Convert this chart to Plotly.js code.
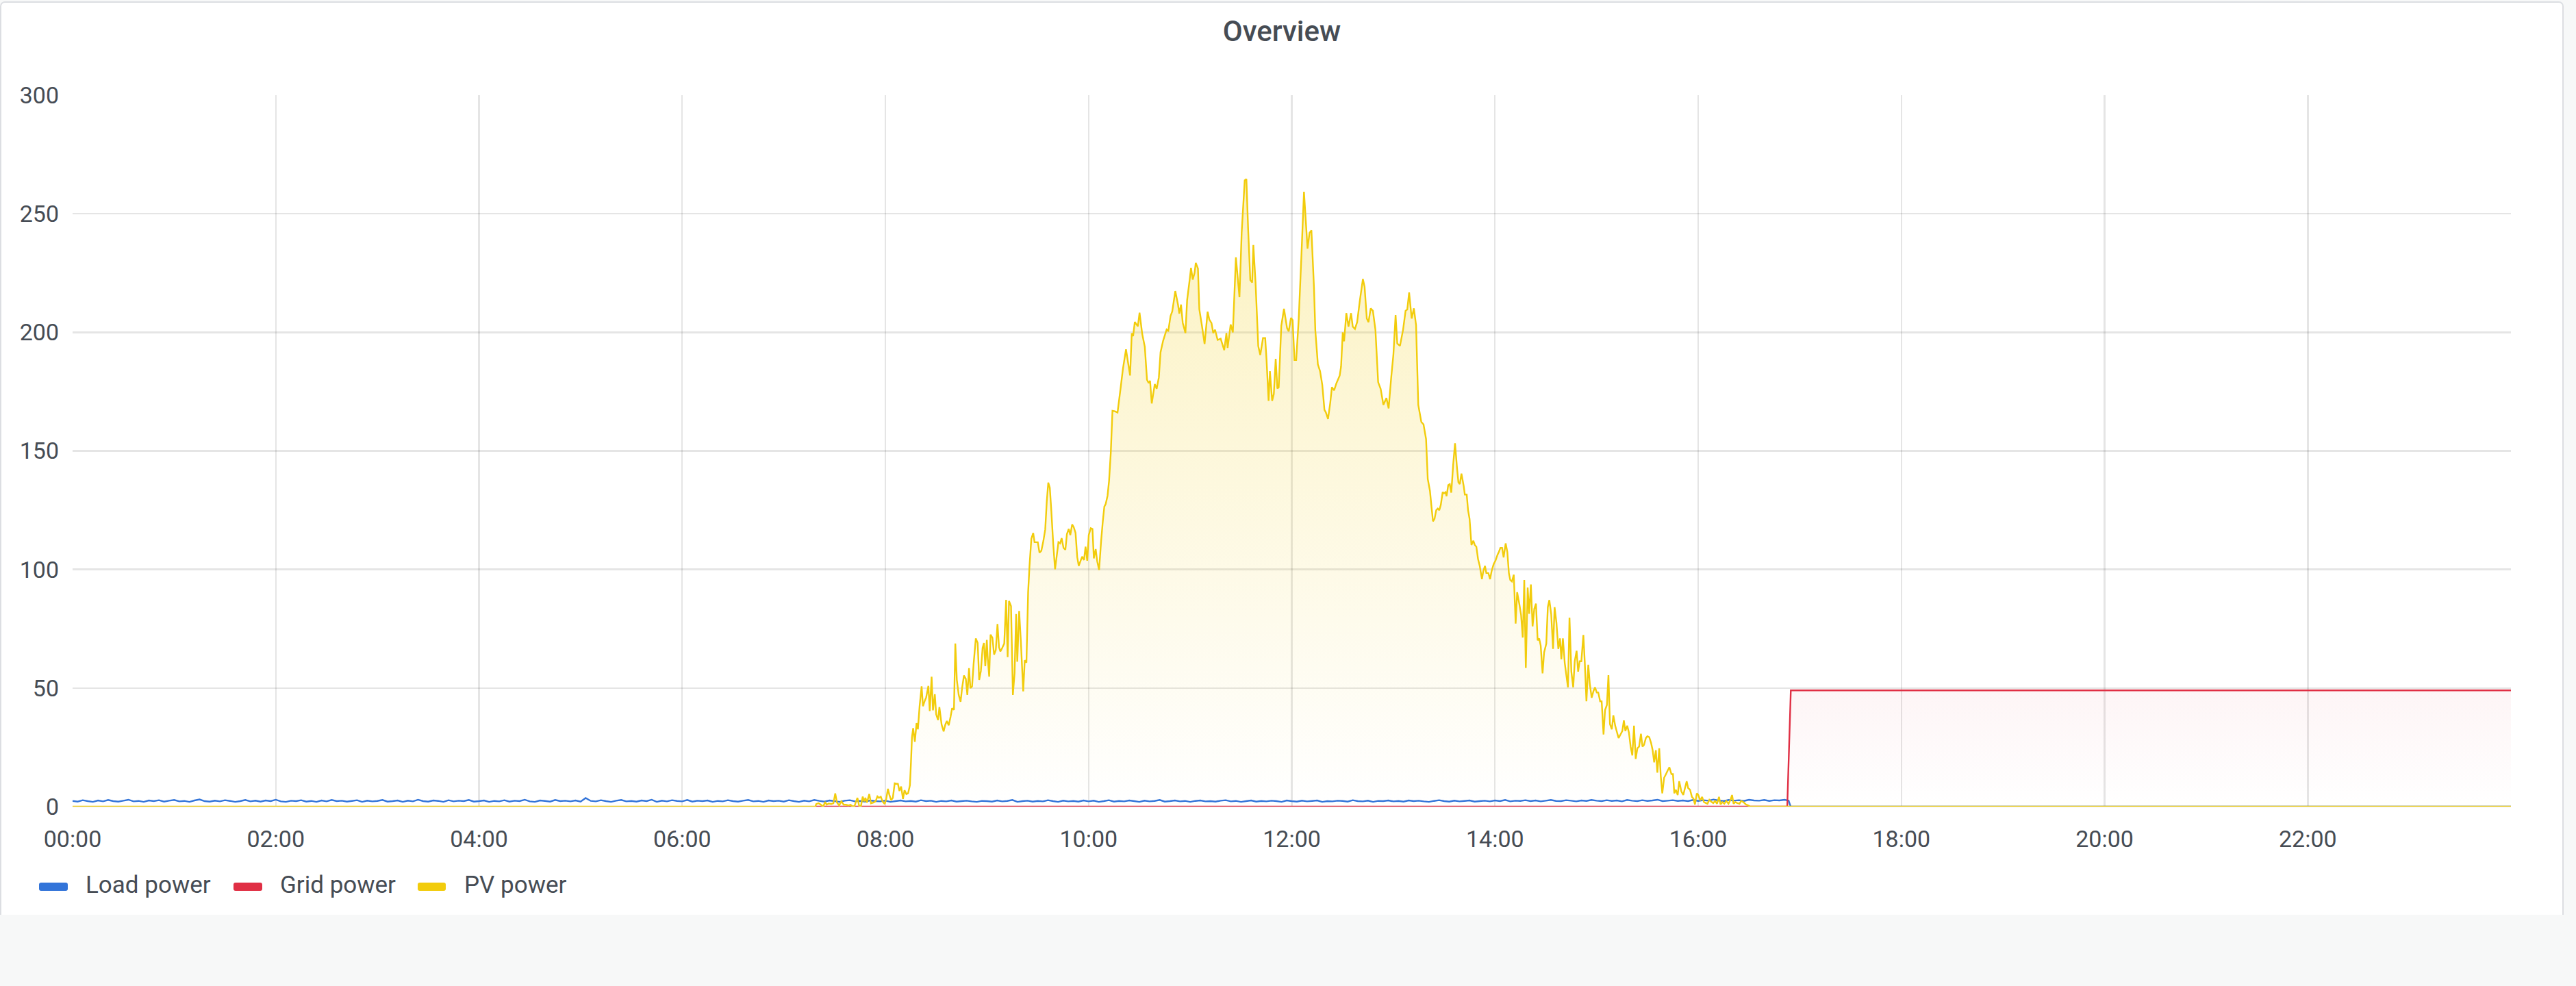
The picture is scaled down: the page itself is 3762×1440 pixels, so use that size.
<!DOCTYPE html>
<html><head><meta charset="utf-8">
<script src="https://cdn.plot.ly/plotly-3.0.1.min.js"></script>
<style>
html,body{margin:0;padding:0;background:#f7f8f8;width:3762px;height:1440px;overflow:hidden;}
#panel{position:absolute;left:0;top:2px;width:3744px;height:1334px;box-sizing:border-box;background:#fff;border:2.5px solid #dcdee2;border-bottom:none;border-radius:7px 7px 0 0;}
#chart{position:absolute;left:0;top:0;width:3762px;height:1440px;}
</style></head><body>
<div id="panel"></div><div id="chart"></div>
<script>
// ---- data (time in minutes of the day, power values) ----
const seriesNames = ['Load power', 'Grid power', 'PV power'];
const seriesColors = ['#3274d9', '#e02f44', '#f2cc0c'];
const xTickLabels = ['00:00','02:00','04:00','06:00','08:00','10:00','12:00','14:00','16:00','18:00','20:00','22:00'];
const yTickValues = [0, 50, 100, 150, 200, 250, 300];

// Load power sampled every 3 minutes from 00:00 to 16:51
const loadStepMinutes = 3;
const loadPower = [
2.4,2.1,2.7,2.3,2.0,2.6,2.2,2.8,2.3,2.1,2.5,2.9,2.2,2.4,2.0,2.6,2.3,2.7,2.1,2.5,
2.8,2.2,2.4,2.0,2.6,3.0,2.3,2.1,2.5,2.2,2.7,2.4,2.0,2.3,2.8,2.2,2.5,2.1,2.6,2.3,
2.9,2.2,2.0,2.5,2.3,2.7,2.1,2.4,2.0,2.6,2.2,2.8,2.3,2.5,2.1,2.4,2.7,2.0,2.5,2.2,
2.4,2.8,2.1,2.3,2.6,2.0,2.5,2.2,2.9,2.3,2.1,2.6,2.4,2.0,2.7,2.2,2.5,2.3,2.8,2.1,
2.3,2.6,2.0,2.4,2.2,2.7,2.1,2.5,2.3,2.9,2.2,2.0,2.6,2.4,2.1,2.8,2.3,2.5,2.2,2.6,
2.1,3.6,2.4,2.2,2.7,2.3,2.0,2.5,2.8,2.2,2.4,2.1,2.6,2.3,2.9,2.0,2.5,2.2,2.7,2.4,
2.2,2.8,2.1,2.5,2.3,2.6,2.0,2.4,2.2,2.7,2.3,2.1,2.5,2.8,2.2,2.4,2.0,2.6,2.3,2.5,
2.1,2.7,2.3,2.0,2.5,2.2,2.8,2.4,2.1,2.6,2.3,2.0,2.5,2.7,2.2,2.4,2.1,2.6,2.3,2.2,
2.5,2.0,2.3,2.6,2.2,2.4,2.1,2.7,2.3,2.5,2.0,2.4,2.2,2.6,2.1,2.3,2.5,2.2,2.0,2.4,
2.3,2.1,2.6,2.2,2.4,2.8,2.0,2.3,2.5,2.1,2.4,2.2,2.7,2.3,2.0,2.5,2.2,2.4,2.1,2.6,
2.2,2.5,2.0,2.3,2.7,2.1,2.4,2.2,2.6,2.3,2.0,2.5,2.2,2.4,2.8,2.1,2.3,2.6,2.2,2.4,
2.0,2.4,2.6,2.2,2.3,2.1,2.5,2.7,2.2,2.4,2.0,2.3,2.6,2.1,2.4,2.2,2.5,2.3,2.0,2.6,
2.3,2.1,2.5,2.2,2.4,2.6,2.0,2.3,2.2,2.5,2.4,2.1,2.7,2.3,2.2,2.5,2.0,2.4,2.3,2.6,
2.2,2.4,2.1,2.6,2.3,2.5,2.2,2.0,2.4,2.7,2.3,2.1,2.5,2.2,2.4,2.6,2.1,2.3,2.5,2.2,
2.6,2.3,2.8,2.2,2.5,2.4,2.7,2.3,2.6,2.2,2.5,2.8,2.4,2.3,2.7,2.5,2.2,2.6,2.4,2.8,
2.5,2.3,2.7,2.4,2.6,2.2,2.8,2.5,2.3,2.7,2.4,2.6,2.9,2.3,2.5,2.7,2.4,2.6,2.3,2.8,
2.4,2.7,2.5,3.0,2.6,2.3,2.8,2.5,2.7,2.4,2.9,2.6,2.5,2.8,2.4,2.7,2.6,2.9
];
const loadTailMinutes = [1013.4, 1014.6, 1439.98];
const loadTailPower = [2.5, 0, 0];

// Grid power
const gridMinutes = [439, 1012.6, 1014.7, 1439.98];
const gridPower = [0, 0, 49, 49];

// PV power readings [minute, value]
const pvPoints = [
[0,0],[438.6,0],[439.2,1.1],[440.6,1.4],[441.9,0.8],[443.3,0],[444.4,2.0],[445.3,0.8],[446.6,1.3],[448.0,1.1],
[449.3,1.4],[450.4,5.6],[451.4,1.7],[452.7,0.5],[454.0,2.2],[455.4,0.8],[456.7,0.8],[458.1,0.5],[459.4,0.8],[460.8,0],
[461.8,0.3],[463.5,3.7],[464.5,0.3],[465.5,0],[466.6,4.2],[467.5,2.2],[468.2,3.7],[469.1,1.7],[470.5,5.3],[471.5,1.4],
[472.9,1.7],[474.2,2.2],[475.3,4.3],[476.2,3.7],[477.3,4.2],[478.3,2.2],[479.6,1.1],[480.5,3.2],[481.5,7.5],[482.3,5.1],
[483.4,2.7],[484.4,3.7],[485.5,9.8],[486.6,9.6],[487.4,9.6],[488.3,6.6],[489.3,8.5],[490.4,3.2],[491.3,6.9],[492.4,5.3],
[493.4,5.6],[494.5,9.0],[495.1,18.6],[495.7,29.2],[496.4,33.1],[497.4,27.3],[498.4,35.2],[499.2,32.6],[500.2,42.3],[501.4,50.7],
[502.2,42.3],[503.3,44.7],[504.1,46.1],[505.4,50.9],[506.2,40.3],[507.3,54.8],[508.1,40.6],[509.2,47.4],[510.0,38.9],[511.1,36.5],
[511.9,42.0],[513.2,34.6],[514.4,31.7],[515.4,34.6],[516.3,36.1],[517.4,34.3],[518.5,37.9],[519.4,41.5],[520.5,40.8],[521.3,68.8],
[522.2,53.4],[523.3,47.1],[524.4,44.2],[525.3,50.0],[526.4,55.3],[527.5,53.9],[528.4,47.1],[529.4,58.4],[530.2,50.0],[531.2,50.7],
[532.1,60.2],[533.4,70.9],[534.5,69.0],[535.4,53.4],[536.4,57.2],[537.4,66.9],[538.2,69.0],[539.0,59.2],[539.9,70.3],[540.4,63.1],
[541.3,54.8],[542.1,72.5],[543.2,71.2],[544.2,64.1],[545.2,66.0],[546.2,77.0],[547.1,67.3],[547.9,65.4],[549.0,66.9],[550.2,68.8],
[551.3,87.2],[552.2,63.0],[553.0,86.7],[554.2,84.5],[555.3,47.1],[556.3,56.3],[557.2,81.2],[557.9,61.1],[559.0,82.5],[560.0,69.8],
[561.4,48.6],[562.3,61.7],[563.3,60.7],[564.3,90.5],[565.1,101.3],[566.2,113],[567.3,115.4],[568.1,111.5],[570.0,111.5],[571.0,107.1],
[572.1,107.9],[573.3,112],[574.4,116.9],[575.3,128.6],[576.2,136.6],[577.1,134.5],[578.0,124.7],[579.1,111],[580.2,100.1],[581.1,105.2],
[582.2,111.5],[583.2,111],[584.1,113.2],[585.2,109.1],[586.3,108.3],[587.2,114.9],[588.3,117.1],[589.2,114.5],[590.3,119.0],[591.2,117.9],
[592.3,115.4],[593.3,105.2],[594.2,101.5],[595.3,103.7],[596.2,105.4],[597.3,104.0],[598.2,109.6],[599.2,103.7],[600.1,114.5],[601.3,117.4],
[602.3,117.1],[603.1,104.7],[604.2,108.6],[605.1,103.4],[606.2,99.8],[607.4,112],[608.4,120.3],[609.3,126.5],[610.1,127.6],[611.2,131.1],
[612.1,137.4],[613.1,149.1],[614.1,166.9],[615.5,166.7],[617.1,166.2],[619.0,177.0],[620.3,184.7],[622.1,192.8],[624.5,181.8],[625.5,199.6],
[626.3,198.4],[627.3,204.4],[629.1,202.5],[630.1,208.3],[631.7,199.2],[633.2,193.9],[634.5,180.0],[635.5,178.6],[636.3,179.6],[637.3,170.0],
[639.1,178.2],[640.2,176.2],[641.5,181.0],[642.5,191.6],[644.0,196.4],[646.1,201.2],[647.1,200.7],[648.4,206.9],[649.4,208.8],[651.2,217.4],
[652.8,211.7],[653.6,207.9],[654.6,211.7],[655.6,204.0],[657.2,199.7],[658.2,213.6],[659.7,222.2],[660.5,227.2],[661.5,222.2],[662.6,225.1],
[663.3,229.3],[664.6,226.9],[665.4,209.7],[666.9,203.0],[668.5,195.1],[670.3,208.7],[671.3,205.4],[672.6,203.9],[673.6,199.7],[674.7,201.1],
[676.2,196.8],[678.0,197.3],[680.1,192.5],[681.4,199.7],[682.1,193.4],[683.9,203.3],[685.2,200.0],[687.0,231.6],[689.1,214.8],[690.4,242.1],
[692.2,264.1],[693.2,264.6],[694.2,244.0],[695.5,222.0],[696.6,221.0],[697.3,236.8],[698.6,221.0],[700.2,194.2],[701.4,190.4],[703.0,197.6],
[704.3,197.6],[705.1,188.3],[706.3,171.1],[707.1,183.6],[708.4,171.1],[709.4,174.0],[710.5,188.8],[711.5,176.3],[712.3,176.8],[713.8,202.7],
[715.4,209.9],[717.2,201.8],[718.2,200.4],[719.5,206.1],[720.5,205.2],[721.6,188.3],[722.6,188.3],[724.1,205.6],[725.7,232.5],[727.2,259.3],
[729.3,235.3],[730.5,242.0],[731.6,243.0],[733.1,219.1],[733.9,200.9],[735.4,186.5],[736.7,183.6],[738.0,177.9],[739.3,167.3],[740.1,166.3],
[741.4,163.5],[742.7,170.2],[743.7,176.9],[745.0,175.5],[746.3,178.4],[748.3,181.8],[749.1,185.6],[750.1,200.0],[750.9,196.2],[752.2,208.1],
[753.5,202.4],[755.0,208.1],[756.0,202.4],[757.3,201.4],[758.6,204.3],[760.2,213.4],[762.0,222.5],[763.0,219.2],[764.3,205.8],[765.3,204.3],
[766.6,210.1],[767.9,209.1],[769.4,201.0],[771.0,179.0],[772.5,176.1],[774.1,169.4],[775.9,172.3],[777.2,167.9],[778.7,180.9],[780.0,190.5],
[781.3,207.3],[782.3,195.3],[783.9,194.3],[785.7,201.0],[787.2,209.1],[788.2,209.6],[789.3,216.8],[790.8,205.8],[792.1,210.1],[793.4,203.0],
[794.7,169.4],[796.5,162.2],[797.8,161.2],[799.3,155.0],[800.3,138.2],[801.6,133.1],[802.5,126.5],[803.4,120.3],[804.3,121.3],[805.3,125.0],
[806.2,125.7],[807.1,125.0],[808.0,127.2],[809.1,132.6],[809.9,132.1],[810.8,132.6],[811.4,130.9],[812.4,135.6],[813.3,136.0],[814.2,132.4],
[815.3,144.1],[816.4,153.2],[817.6,142.6],[818.4,136.8],[819.2,136.0],[820.2,140.4],[821.5,135.3],[822.2,131.6],[823.3,131.6],[824.1,125.0],
[825.0,121.3],[826.1,110.3],[827.2,112.1],[828.1,110.3],[829.0,109.6],[830.0,104.4],[831.0,101.5],[832.3,95.9],[833.1,99.3],[834.1,101.5],
[834.9,98.5],[836.1,98.5],[837.1,95.9],[838.0,99.3],[839.2,102.2],[840.3,103.7],[841.5,106.2],[842.3,107.4],[843.2,109.1],[844.2,109.1],
[845.1,105.1],[846.3,111.0],[847.3,107.4],[848.2,98.5],[849.0,95.6],[850.0,94.9],[851.1,97.8],[852.2,77.2],[853.1,90.4],[854.4,85.3],
[855.4,80.9],[856.4,71.3],[857.3,95.6],[858.2,58.5],[859.3,92.4],[860.2,81.3],[861.2,93.7],[862.2,76.0],[863.2,83.4],[864.2,85.6],
[865.2,70.1],[866.1,70.9],[867.0,67.9],[868.1,56.2],[869.0,65.0],[870.3,68.7],[871.2,84.1],[872.1,87.1],[873.2,81.2],[874.3,66.5],
[875.2,84.1],[876.3,77.5],[877.4,66.5],[878.4,70.9],[879.2,62.1],[880.1,70.9],[881.2,60.6],[882.0,56.2],[883.1,50.3],[884.0,79.7],
[885.1,56.9],[886.2,50.3],[887.1,61.3],[888.2,65.7],[889.1,56.9],[890.0,61.3],[891.0,61.3],[892.2,72.4],[893.0,61.3],[894.0,44.4],
[895.1,59.8],[896.0,51.8],[897.1,45.9],[898.2,48.8],[899.1,50.3],[900.1,48.1],[901.0,48.1],[902.1,44.4],[903.0,44.4],[904.1,30.4],
[905.0,40.7],[906.1,42.9],[907.0,55.4],[907.9,34.8],[909.0,32.6],[909.9,38.5],[911.0,34.1],[912.1,31.2],[913.0,28.9],[914.1,30.4],
[915.2,31.9],[916.1,36.3],[917.0,31.9],[918.1,34.1],[919.1,31.2],[920.1,25.3],[921.1,21.6],[922.1,34.1],[923.1,20.1],[924.1,24.6],
[925.1,25.3],[926.2,30.7],[927.1,25.3],[928.0,26.0],[929.1,28.9],[930.0,29.7],[931.1,29.3],[932.2,26.8],[933.1,23.8],[934.0,18.7],
[935.0,23.8],[935.9,14.3],[937.0,24.6],[937.9,12.9],[938.8,5.6],[939.9,12.2],[941.0,13.7],[941.9,15.1],[943.0,16.6],[944.2,13.7],
[945.1,13.7],[945.9,5.6],[946.8,7.1],[947.9,4.9],[948.8,10.7],[950.1,6.3],[951.2,4.9],[952.2,7.8],[953.2,10.7],[954.1,7.8],
[955.2,7.1],[956.3,4.1],[957.2,3.4],[958.1,0.9],[959.2,5.6],[960.1,4.9],[961.2,2.6],[962.3,4.1],[963.4,1.9],[964.6,1.5],
[965.5,1.2],[966.6,2.9],[967.7,2.1],[968.9,1.5],[970.0,2.4],[971.1,1.2],[972.3,4.1],[973.2,0.9],[974.3,1.9],[975.4,1.2],
[976.6,2.4],[977.9,1.2],[979.1,2.9],[980.0,4.9],[980.9,1.2],[982.0,1.9],[983.1,1.5],[984.4,1.2],[985.4,2.4],[986.7,1.9],
[988.2,0.9],[989.8,0.4],[990.6,0],[1439.98,0]
];

// ---- helpers ----
const BASE = Date.UTC(2023, 5, 1);
function toDate(m) {
  const d = new Date(BASE + Math.round(m * 60000));
  return d.toISOString().replace('T', ' ').replace('Z', '');
}

const W = 3762, H = 1440, L = 106, R = 3667, T = 139, B = 1178;
const px = p => (p - L) / (R - L);
const py = p => (B - p) / (B - T);

const loadX = loadPower.map((v, i) => toDate(i * loadStepMinutes)).concat(loadTailMinutes.map(toDate));
const loadY = loadPower.concat(loadTailPower);
const gridX = gridMinutes.map(toDate);
const pvX = pvPoints.map(p => toDate(p[0]));
const pvY = pvPoints.map(p => p[1]);

function grad(rgb) {
  return {type: 'vertical', start: 0, stop: 300,
    colorscale: [[0, 'rgba(' + rgb + ',0)'], [1, 'rgba(' + rgb + ',0.3)']]};
}

const traces = [
  {x: loadX, y: loadY, name: seriesNames[0], type: 'scatter', mode: 'lines',
   line: {color: seriesColors[0], width: 2.4, simplify: false}, hoverinfo: 'skip'},
  {x: gridX, y: gridPower, name: seriesNames[1], type: 'scatter', mode: 'lines',
   line: {color: seriesColors[1], width: 2.4, simplify: false}, fill: 'tozeroy',
   fillcolor: 'rgba(224,47,68,0.03)', fillgradient: grad('224,47,68'), hoverinfo: 'skip'},
  {x: pvX, y: pvY, name: seriesNames[2], type: 'scatter', mode: 'lines',
   line: {color: seriesColors[2], width: 2.4, simplify: false}, fill: 'tozeroy',
   fillcolor: 'rgba(242,204,12,0.12)', fillgradient: grad('242,204,12'), hoverinfo: 'skip'}
];

function rr(x0, y0, x1, y1, r) {
  const X = p => px(p).toFixed(6), Y = p => py(p).toFixed(6);
  return 'M' + X(x0 + r) + ',' + Y(y0) + ' L' + X(x1 - r) + ',' + Y(y0) +
    ' Q' + X(x1) + ',' + Y(y0) + ' ' + X(x1) + ',' + Y(y0 + r) +
    ' L' + X(x1) + ',' + Y(y1 - r) + ' Q' + X(x1) + ',' + Y(y1) + ' ' + X(x1 - r) + ',' + Y(y1) +
    ' L' + X(x0 + r) + ',' + Y(y1) + ' Q' + X(x0) + ',' + Y(y1) + ' ' + X(x0) + ',' + Y(y1 - r) +
    ' L' + X(x0) + ',' + Y(y0 + r) + ' Q' + X(x0) + ',' + Y(y0) + ' ' + X(x0 + r) + ',' + Y(y0) + ' Z';
}

const legendSwatchX = [[57, 99], [341, 383], [610, 651]];
const legendTextX = [124, 408, 677];
const shapes = [], annotations = [];
for (let i = 0; i < 3; i++) {
  shapes.push({type: 'path', xref: 'paper', yref: 'paper', layer: 'above',
    path: rr(legendSwatchX[i][0], 1289, legendSwatchX[i][1], 1301, 3),
    fillcolor: seriesColors[i], line: {width: 0}});
  annotations.push({xref: 'paper', yref: 'paper', x: px(legendTextX[i]), y: py(1292),
    xanchor: 'left', yanchor: 'middle', showarrow: false, text: seriesNames[i],
    font: {family: 'Roboto', size: 35, color: '#464c54'}, borderpad: 0});
}

const tickFont = {family: 'Roboto', size: 34, color: '#464c54'};
const layout = {
  width: W, height: H,
  margin: {l: L, r: W - R, t: T, b: H - B, pad: 0},
  paper_bgcolor: 'rgba(0,0,0,0)', plot_bgcolor: 'rgba(0,0,0,0)',
  title: {text: 'Overview', xref: 'container', x: 1872 / W, xanchor: 'center',
    yref: 'container', y: 1 - 45 / H, yanchor: 'middle',
    font: {family: 'Roboto', size: 42, color: '#464c54', weight: 500}},
  xaxis: {type: 'date', range: [toDate(0), toDate(1439.98)],
    tickmode: 'array', tickvals: xTickLabels.map((t, i) => toDate(i * 120)), ticktext: xTickLabels,
    showgrid: true, gridcolor: 'rgba(0,0,0,0.1)', gridwidth: 2.4,
    zeroline: false, showline: false, ticks: '', tickfont: tickFont, ticklabelstandoff: 24, fixedrange: true},
  yaxis: {range: [0, 300], tickmode: 'array', tickvals: yTickValues, ticktext: yTickValues.map(String),
    showgrid: true, gridcolor: 'rgba(0,0,0,0.1)', gridwidth: 2.4,
    zeroline: true, zerolinecolor: 'rgba(0,0,0,0.1)', zerolinewidth: 2.4,
    showline: false, ticks: '', tickfont: tickFont, ticklabelstandoff: 19, fixedrange: true},
  showlegend: false, hovermode: false,
  shapes: shapes, annotations: annotations
};

Plotly.newPlot('chart', traces, layout, {displayModeBar: false, staticPlot: true});
</script></body></html>
